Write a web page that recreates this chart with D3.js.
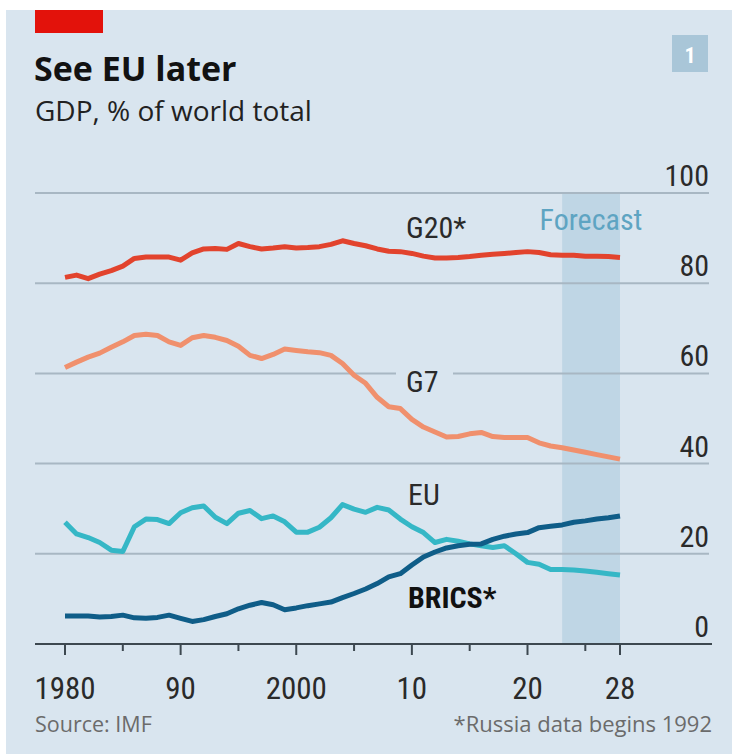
<!DOCTYPE html>
<html><head><meta charset="utf-8">
<script src="https://cdn.jsdelivr.net/npm/d3@7"></script>
<style>
html,body{margin:0;padding:0;background:#fff;}
svg text{font-family:"Liberation Sans Narrow","Roboto Condensed","Open Sans",sans-serif;}
svg text.wide{font-family:"Open Sans",sans-serif;}
</style></head>
<body><svg id="c" width="732" height="756"></svg>
<script>
const years = d3.range(1980, 2029);
const g20 = [81.3,81.8,81.0,82.0,82.8,83.8,85.5,85.8,85.8,85.8,85.1,86.7,87.6,87.7,87.5,88.8,88.1,87.6,87.8,88.1,87.8,87.9,88.1,88.6,89.4,88.8,88.3,87.6,87.1,87.0,86.6,86.0,85.6,85.6,85.7,85.9,86.2,86.4,86.6,86.8,87.0,86.8,86.3,86.2,86.2,86.0,86.0,85.9,85.7];
const g7 = [61.3,62.5,63.6,64.5,65.8,67.0,68.4,68.7,68.4,67.0,66.2,67.9,68.4,68.0,67.3,66.0,64.0,63.3,64.2,65.4,65.1,64.8,64.6,64.0,62.2,59.6,57.8,54.7,52.6,52.2,49.8,48.1,47.0,45.9,46.0,46.6,46.9,46.0,45.8,45.8,45.8,44.6,43.9,43.5,43.0,42.5,42.0,41.5,41.0];
const eu = [27.0,24.4,23.6,22.5,20.8,20.5,26.0,27.7,27.6,26.7,29.1,30.2,30.6,28.1,26.7,29.0,29.6,27.8,28.4,27.1,24.8,24.8,25.9,28.0,30.9,29.9,29.2,30.3,29.7,27.7,26.0,24.7,22.5,23.2,22.8,22.2,21.8,21.4,21.8,20.0,18.1,17.7,16.5,16.5,16.4,16.2,15.9,15.6,15.3];
const brics = [6.2,6.2,6.2,6.0,6.1,6.4,5.8,5.7,5.9,6.4,5.7,5.0,5.4,6.1,6.7,7.8,8.6,9.2,8.7,7.6,8.0,8.5,8.9,9.3,10.3,11.2,12.2,13.4,14.9,15.6,17.5,19.3,20.4,21.3,21.8,22.1,22.2,23.2,23.9,24.4,24.7,25.8,26.1,26.4,27.0,27.3,27.7,28.0,28.4];
const yTicks = [0,20,40,60,80,100];
const xMajor = [1980,1990,2000,2010,2020,2028];
const xMajorLabels = ["1980","90","2000","10","20","28"];
const xMinor = [1985,1995,2005,2015,2025];
const forecast = [2023,2028];

const svg = d3.select("#c");
svg.append("rect").attr("x",6).attr("y",10).attr("width",726).attr("height",744).attr("fill","#d9e5ef");
svg.append("rect").attr("x",35).attr("y",10).attr("width",68).attr("height",23).attr("fill","#e3120b");
svg.append("text").attr("class","wide").attr("x",34).attr("y",81).attr("font-size",34).attr("font-weight","bold").attr("fill","#121212").text("See EU later");
svg.append("text").attr("class","wide").attr("x",35).attr("y",121).attr("font-size",28).attr("fill","#222").text("GDP, % of world total");
svg.append("rect").attr("x",672).attr("y",35).attr("width",36).attr("height",37).attr("fill","#a9c6d8");
svg.append("text").attr("x",690).attr("y",63).attr("text-anchor","middle").attr("font-size",22).attr("font-weight","bold").attr("fill","#fff").text("1");

const x = d3.scaleLinear().domain([1980,2028]).range([65,620]);
const y = d3.scaleLinear().domain([0,100]).range([644,193]);

svg.append("rect").attr("x",x(forecast[0])).attr("y",y(100)).attr("width",x(forecast[1])-x(forecast[0])).attr("height",y(0)-y(100)).attr("fill","#bfd6e5");

const grid = svg.append("g");
yTicks.filter(d=>d>0).forEach(t=>{
  if (t===60){
    grid.append("line").attr("x1",35).attr("x2",396).attr("y1",y(t)).attr("y2",y(t));
    grid.append("line").attr("x1",453).attr("x2",709).attr("y1",y(t)).attr("y2",y(t));
  } else {
    grid.append("line").attr("x1",35).attr("x2",709).attr("y1",y(t)).attr("y2",y(t));
  }
});
grid.selectAll("line").attr("stroke","#a8b7c3").attr("stroke-width",2);

svg.append("g").selectAll("text").data(yTicks).join("text")
  .attr("x",709).attr("y",d=>y(d)-7).attr("text-anchor","end").attr("font-size",30).attr("fill","#2a2a2a").text(d=>d);

const xa = svg.append("g").attr("transform",`translate(0,${y(0)})`);
xa.append("line").attr("x1",35).attr("x2",712).attr("stroke","#3d4850").attr("stroke-width",2);
xa.selectAll(".maj").data(xMajor).join("line").attr("class","maj").attr("x1",d=>x(d)).attr("x2",d=>x(d)).attr("y1",0).attr("y2",11).attr("stroke","#3d4850").attr("stroke-width",2);
xa.selectAll(".min").data(xMinor).join("line").attr("class","min").attr("x1",d=>x(d)).attr("x2",d=>x(d)).attr("y1",0).attr("y2",7).attr("stroke","#3d4850").attr("stroke-width",2);
xa.selectAll("text").data(xMajor).join("text").attr("x",d=>x(d)).attr("y",55).attr("text-anchor","middle").attr("font-size",31).attr("fill","#2a2a2a").text((d,i)=>xMajorLabels[i]);

svg.append("text").attr("x",591).attr("y",230).attr("text-anchor","middle").attr("font-size",30).attr("fill","#5ea4c2").text("Forecast");

const line = d3.line().x((d,i)=>x(years[i])).y(d=>y(d));
const series = [
  {v:g7, c:"#f0906d"},
  {v:g20, c:"#e2432d"},
  {v:eu, c:"#35b7c6"},
  {v:brics, c:"#0f5d88"}
];
series.forEach(s=>{
  svg.append("path").attr("d",line(s.v)).attr("fill","none").attr("stroke",s.c).attr("stroke-width",5).attr("stroke-linejoin","round");
});

const labels = [
  {t:"G20*", x:406, y:238, w:"normal"},
  {t:"G7", x:406, y:392, w:"normal"},
  {t:"EU", x:408, y:505, w:"normal"},
  {t:"BRICS*", x:408, y:608, w:"bold"}
];
svg.append("g").selectAll("text").data(labels).join("text").attr("x",d=>d.x).attr("y",d=>d.y).attr("font-size",30).attr("font-weight",d=>d.w).attr("fill",d=>d.w==="bold"?"#111":"#2a2a2a").text(d=>d.t);

svg.append("text").attr("class","wide").attr("x",35).attr("y",732).attr("font-size",21.5).attr("fill","#6b6b6b").text("Source: IMF");
svg.append("text").attr("class","wide").attr("x",712).attr("y",732).attr("text-anchor","end").attr("font-size",22).attr("fill","#6b6b6b").text("*Russia data begins 1992");
</script></body></html>
